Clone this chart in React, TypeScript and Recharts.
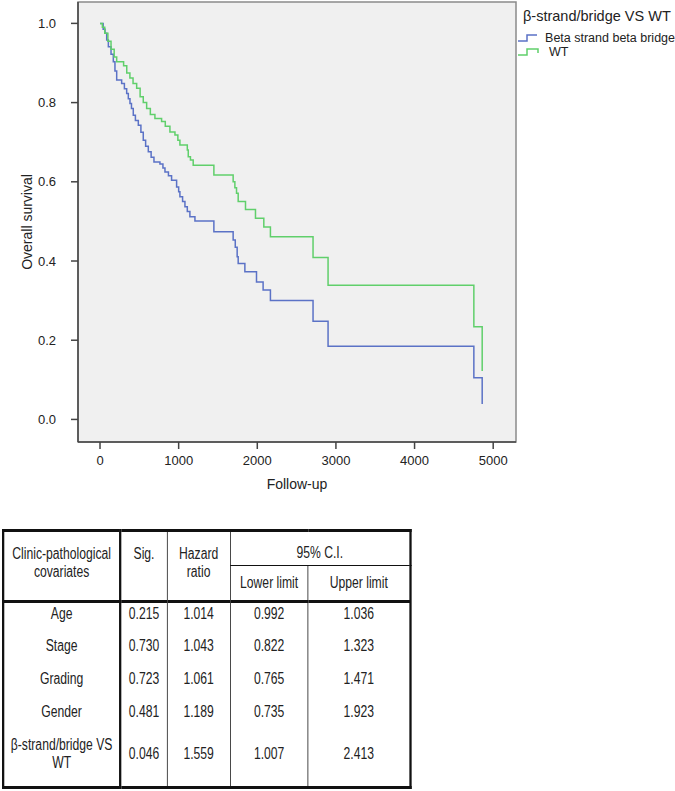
import React from 'react'
import {
  LineChart,
  Line,
  XAxis,
  YAxis,
  ReferenceArea,
} from 'recharts'

// Kaplan-Meier steps: time (days) and survival after the event
const BETA_T = [0, 40, 64, 85, 106, 140, 169, 190, 212, 275, 310, 339, 360, 381, 400, 423, 450, 487, 520, 550, 580, 614, 650, 686, 762, 800, 826, 870, 910, 974, 1000, 1016, 1050, 1080, 1110, 1143, 1207, 1448, 1693, 1720, 1744, 1757, 1842, 1990, 2074, 2167, 2709, 2900, 4754, 4860]
const BETA_S = [1.0, 0.985, 0.975, 0.958, 0.941, 0.922, 0.903, 0.88, 0.857, 0.848, 0.835, 0.823, 0.81, 0.798, 0.785, 0.768, 0.755, 0.743, 0.725, 0.705, 0.69, 0.676, 0.662, 0.65, 0.645, 0.635, 0.625, 0.615, 0.604, 0.587, 0.575, 0.562, 0.55, 0.537, 0.525, 0.512, 0.501, 0.474, 0.453, 0.435, 0.411, 0.394, 0.373, 0.347, 0.327, 0.3, 0.248, 0.185, 0.105, 0.039]

const WT_T = [0, 30, 60, 100, 140, 180, 212, 300, 340, 380, 420, 466, 510, 550, 593, 640, 698, 783, 830, 889, 953, 990, 1016, 1110, 1122, 1150, 1185, 1448, 1693, 1715, 1736, 1757, 1850, 1977, 2083, 2167, 2709, 2900, 4754, 4860]
const WT_S = [1.0, 0.99, 0.975, 0.955, 0.935, 0.915, 0.903, 0.893, 0.875, 0.862, 0.848, 0.836, 0.815, 0.8, 0.785, 0.77, 0.76, 0.752, 0.74, 0.726, 0.718, 0.705, 0.693, 0.68, 0.663, 0.655, 0.642, 0.617, 0.6, 0.585, 0.571, 0.55, 0.53, 0.508, 0.486, 0.461, 0.409, 0.339, 0.234, 0.122]

const X_TICKS = [0, 1000, 2000, 3000, 4000, 5000]
const Y_TICKS = [0, 0.2, 0.4, 0.6, 0.8, 1.0]

const SERIES_NAMES = ['Beta strand beta bridge', 'WT']
const SERIES_COLORS = ['#5b72c6', '#60cf6b']

const COVARIATES = ['Age', 'Stage', 'Grading', 'Gender', 'β-strand/bridge VS WT']
const SIG = ['0.215', '0.730', '0.723', '0.481', '0.046']
const HAZARD = ['1.014', '1.043', '1.061', '1.189', '1.559']
const LOWER = ['0.992', '0.822', '0.765', '0.735', '1.007']
const UPPER = ['1.036', '1.323', '1.471', '1.923', '2.413']

const betaData = BETA_T.map((t, i) => ({ t, s: BETA_S[i] }))
const wtData = WT_T.map((t, i) => ({ t, s: WT_S[i] }))

const SANS = '"Liberation Sans", Arial, Helvetica, sans-serif'

// table is drawn wide and squeezed horizontally to mimic a narrow typeface
const SQUEEZE = 0.76
const COL_W = [117, 47, 63, 78, 102].map((w) => w / SQUEEZE)

const thick = '3px solid #111'
const thin = '1px solid #111'

export default function App() {
  const cell: React.CSSProperties = {
    fontFamily: SANS,
    fontSize: 16,
    color: '#222',
    textAlign: 'center',
    lineHeight: '18px',
    padding: 0,
  }
  return (
    <div style={{ position: 'relative', width: 675, height: 791, background: '#fff' }}>
      <style>{`body{margin:0}`}</style>
      <LineChart
        width={675}
        height={500}
        margin={{ top: 2, right: 159, bottom: 0, left: 0 }}
      >
        <ReferenceArea
          x1={-280}
          x2={5290}
          y1={-0.057}
          y2={1.054}
          fill="#f0f0f0"
          fillOpacity={1}
          stroke="#8a8a8a"
          strokeWidth={1.5}
        />
        <XAxis
          dataKey="t"
          type="number"
          domain={[-280, 5290]}
          ticks={X_TICKS}
          allowDataOverflow
          height={58}
          tickSize={7}
          tickMargin={7}
          axisLine={{ stroke: '#444', strokeWidth: 1.5 }}
          tickLine={{ stroke: '#444', strokeWidth: 1.5 }}
          tick={{ fontFamily: SANS, fontSize: 13, fill: '#222' }}
          label={{ value: 'Follow-up', position: 'insideBottom', offset: 11, style: { fontFamily: SANS, fontSize: 14, fill: '#222' } }}
        />
        <YAxis
          type="number"
          domain={[-0.057, 1.054]}
          ticks={Y_TICKS}
          allowDataOverflow
          width={78}
          tickSize={7}
          tickMargin={15}
          tickFormatter={(v: number) => v.toFixed(1)}
          axisLine={{ stroke: '#444', strokeWidth: 1.5 }}
          tickLine={{ stroke: '#444', strokeWidth: 1.5 }}
          tick={{ fontFamily: SANS, fontSize: 13, fill: '#222' }}
          label={{ value: 'Overall survival', angle: -90, position: 'insideLeft', offset: 27, style: { textAnchor: 'middle', fontFamily: SANS, fontSize: 14, fill: '#222' } }}
        />
        <Line
          data={betaData}
          dataKey="s"
          name={SERIES_NAMES[0]}
          type="stepAfter"
          stroke={SERIES_COLORS[0]}
          strokeWidth={1.5}
          dot={false}
          isAnimationActive={false}
        />
        <Line
          data={wtData}
          dataKey="s"
          name={SERIES_NAMES[1]}
          type="stepAfter"
          stroke={SERIES_COLORS[1]}
          strokeWidth={1.5}
          dot={false}
          isAnimationActive={false}
        />
      </LineChart>

      {/* Legend */}
      <div style={{ position: 'absolute', left: 516, top: 7, width: 159, fontFamily: SANS, color: '#222' }}>
        <div style={{ fontSize: 14.5, lineHeight: '18px', marginLeft: 7, whiteSpace: 'nowrap' }}>β-strand/bridge VS WT</div>
        <div style={{ marginTop: 6 }}>
          {SERIES_NAMES.map((name, i) => (
            <div key={name} style={{ display: 'flex', alignItems: 'center', height: 14 }}>
              <svg width={23} height={12} style={{ marginLeft: 2, marginRight: 8 }}>
                <path d="M0 9 H9 V3 H20 V7" fill="none" stroke={SERIES_COLORS[i]} strokeWidth={1.5} />
              </svg>
              <span style={{ fontSize: 12.5, whiteSpace: 'nowrap' }}>{name}</span>
            </div>
          ))}
        </div>
      </div>

      {/* Cox regression table */}
      <table
        style={{
          position: 'absolute',
          left: 2,
          top: 529,
          width: 407 / SQUEEZE,
          height: 260,
          borderCollapse: 'collapse',
          tableLayout: 'fixed',
          border: thick,
          transform: `scaleX(${SQUEEZE})`,
          transformOrigin: '0 0',
        }}
      >
        <colgroup>
          {COL_W.map((w, i) => (
            <col key={i} style={{ width: w }} />
          ))}
        </colgroup>
        <tbody>
          <tr style={{ height: 35 }}>
            <td rowSpan={2} style={{ ...cell, verticalAlign: 'top', paddingTop: 13, borderRight: thick, borderBottom: thick }}>
              Clinic-pathological<br />covariates
            </td>
            <td rowSpan={2} style={{ ...cell, verticalAlign: 'top', paddingTop: 13, borderRight: thin, borderBottom: thick }}>
              Sig.
            </td>
            <td rowSpan={2} style={{ ...cell, verticalAlign: 'top', paddingTop: 13, borderRight: thin, borderBottom: thick }}>
              Hazard<br />ratio
            </td>
            <td colSpan={2} style={{ ...cell, paddingTop: 8, borderBottom: thin }}>
              95% C.I.
            </td>
          </tr>
          <tr style={{ height: 36 }}>
            <td style={{ ...cell, borderRight: thin, borderBottom: thick }}>Lower limit</td>
            <td style={{ ...cell, borderBottom: thick }}>Upper limit</td>
          </tr>
          {COVARIATES.map((c, i) => {
            const last = i === COVARIATES.length - 1
            const h = i === 0 ? 28 : last ? 59 : 33
            const pb = i === 0 ? 4 : last ? 6 : 0
            return (
              <tr key={c} style={{ height: h }}>
                <td style={{ ...cell, paddingBottom: pb, borderRight: thick, paddingLeft: last ? 4 : 0, paddingRight: last ? 4 : 0 }}>{c}</td>
                <td style={{ ...cell, paddingBottom: pb, borderRight: thin }}>{SIG[i]}</td>
                <td style={{ ...cell, paddingBottom: pb, borderRight: thin }}>{HAZARD[i]}</td>
                <td style={{ ...cell, paddingBottom: pb, borderRight: thin }}>{LOWER[i]}</td>
                <td style={{ ...cell, paddingBottom: pb }}>{UPPER[i]}</td>
              </tr>
            )
          })}
        </tbody>
      </table>
    </div>
  )
}
